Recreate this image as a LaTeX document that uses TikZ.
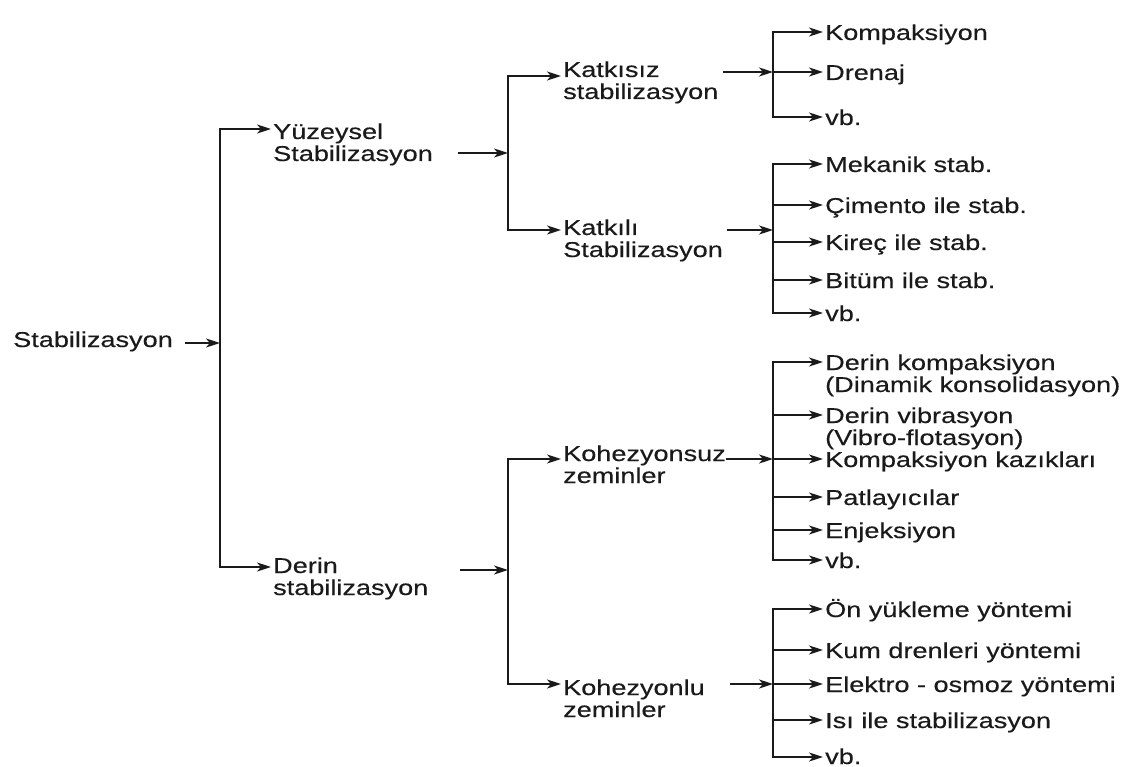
\documentclass[tikz,border=0pt]{standalone}
\usepackage{fontspec}
\setmainfont{Liberation Sans}[FakeStretch=1.26,FakeBold=0.35]
\usetikzlibrary{arrows.meta}
\definecolor{ink}{HTML}{1A1A1A}
\newcommand{\twoline}[2]{\vtop{\hbox{#1}\hbox{#2}}}
\begin{document}
\begin{tikzpicture}[x=1pt,y=-1pt,
  txt/.style={font=\fontsize{21.5}{22}\selectfont, inner sep=0pt, anchor=base west, text=ink},
  con/.style={line width=1.9pt, draw=ink},
  tip/.style={-{Stealth[length=14pt 0,width=9pt 0,inset=4pt 0]}},
  arr/.style={con, tip, shorten >=2pt},
  arrin/.style={con, tip}]
\useasboundingbox[fill=white] (0,0) rectangle (1139,767);

% level 0 and 1
\node[txt] (root) at (13,347) {Stabilizasyon};
\node[txt] (yuz) at (273,139) {\twoline{Yüzeysel}{Stabilizasyon}};
\node[txt] (der) at (273,573) {\twoline{Derin}{stabilizasyon}};
% level 2
\node[txt] (kz) at (563,77) {\twoline{Katkısız}{stabilizasyon}};
\node[txt] (kl) at (563,235) {\twoline{Katkılı}{Stabilizasyon}};
\node[txt] (ksz) at (563,461) {\twoline{Kohezyonsuz}{zeminler}};
\node[txt] (klu) at (563,695) {\twoline{Kohezyonlu}{zeminler}};
% level 3
\node[txt] (k1) at (825,40) {Kompaksiyon};
\node[txt] (k2) at (825,80) {Drenaj};
\node[txt] (k3) at (825,125) {vb.};
\node[txt] (l1) at (825,172) {Mekanik stab.};
\node[txt] (l2) at (825,213) {Çimento ile stab.};
\node[txt] (l3) at (825,250) {Kireç ile stab.};
\node[txt] (l4) at (825,288) {Bitüm ile stab.};
\node[txt] (l5) at (825,321) {vb.};
\node[txt] (s1) at (825,370) {\twoline{Derin kompaksiyon}{(Dinamik konsolidasyon)}};
\node[txt] (s2) at (825,423) {\twoline{Derin vibrasyon}{(Vibro-flotasyon)}};
\node[txt] (s3) at (825,467) {Kompaksiyon kazıkları};
\node[txt] (s4) at (825,505) {Patlayıcılar};
\node[txt] (s5) at (825,538) {Enjeksiyon};
\node[txt] (s6) at (825,568) {vb.};
\node[txt] (u1) at (825,617) {Ön yükleme yöntemi};
\node[txt] (u2) at (825,658) {Kum drenleri yöntemi};
\node[txt] (u3) at (825,692) {Elektro - osmoz yöntemi};
\node[txt] (u4) at (825,728) {Isı ile stabilizasyon};
\node[txt] (u5) at (825,764) {vb.};

% coordinates
\coordinate (sr) at (185,343); \coordinate (jr) at (220,343);
\coordinate (m1) at (220,129); \coordinate (m2) at (220,567);
\coordinate (sy) at (458,153); \coordinate (jy) at (508,153);
\coordinate (a1) at (508,76);  \coordinate (a2) at (508,230);
\coordinate (sd) at (460,570); \coordinate (jd) at (508,570);
\coordinate (b1) at (508,459); \coordinate (b2) at (508,684);
\coordinate (skz) at (723,72); \coordinate (jkz) at (773,72);
\coordinate (ck1) at (773,32); \coordinate (ck3) at (773,117);
\coordinate (skl) at (727,230); \coordinate (jkl) at (773,230);
\coordinate (cl1) at (773,164); \coordinate (cl2) at (773,205);
\coordinate (cl3) at (773,242); \coordinate (cl4) at (773,280);
\coordinate (cl5) at (773,313);
\coordinate (sks) at (726,459); \coordinate (jks) at (773,459);
\coordinate (cs1) at (773,362); \coordinate (cs2) at (773,415);
\coordinate (cs4) at (773,497); \coordinate (cs5) at (773,530);
\coordinate (cs6) at (773,560);
\coordinate (sku) at (730,684); \coordinate (jku) at (773,684);
\coordinate (cu1) at (773,609); \coordinate (cu2) at (773,650);
\coordinate (cu4) at (773,720); \coordinate (cu5) at (773,757);

% root
\draw[arrin] (sr) -- (jr);
\draw[arr] (jr) |- (m1 -| yuz.west);
\draw[arr] (jr) |- (m2 -| der.west);
% Yuzeysel
\draw[arrin] (sy) -- (jy);
\draw[arr] (jy) |- (a1 -| kz.west);
\draw[arr] (jy) |- (a2 -| kl.west);
% Derin
\draw[arrin] (sd) -- (jd);
\draw[arr] (jd) |- (b1 -| ksz.west);
\draw[arr] (jd) |- (b2 -| klu.west);
% Katkisiz
\draw[arrin] (skz) -- (jkz);
\draw[arr] (jkz) |- (ck1 -| k1.west);
\draw[arr] (jkz) -- (jkz -| k2.west);
\draw[arr] (jkz) |- (ck3 -| k3.west);
% Katkili
\draw[arrin] (skl) -- (jkl);
\draw[arr] (jkl) |- (cl1 -| l1.west);
\draw[arr] (cl2) -- (cl2 -| l2.west);
\draw[arr] (cl3) -- (cl3 -| l3.west);
\draw[arr] (cl4) -- (cl4 -| l4.west);
\draw[arr] (jkl) |- (cl5 -| l5.west);
% Kohezyonsuz
\draw[arrin] (sks) -- (jks);
\draw[arr] (jks) |- (cs1 -| s1.west);
\draw[arr] (cs2) -- (cs2 -| s2.west);
\draw[arr] (jks) -- (jks -| s3.west);
\draw[arr] (cs4) -- (cs4 -| s4.west);
\draw[arr] (cs5) -- (cs5 -| s5.west);
\draw[arr] (jks) |- (cs6 -| s6.west);
% Kohezyonlu
\draw[arrin] (sku) -- (jku);
\draw[arr] (jku) |- (cu1 -| u1.west);
\draw[arr] (cu2) -- (cu2 -| u2.west);
\draw[arr] (jku) -- (jku -| u3.west);
\draw[arr] (cu4) -- (cu4 -| u4.west);
\draw[arr] (jku) |- (cu5 -| u5.west);
\end{tikzpicture}
\end{document}
